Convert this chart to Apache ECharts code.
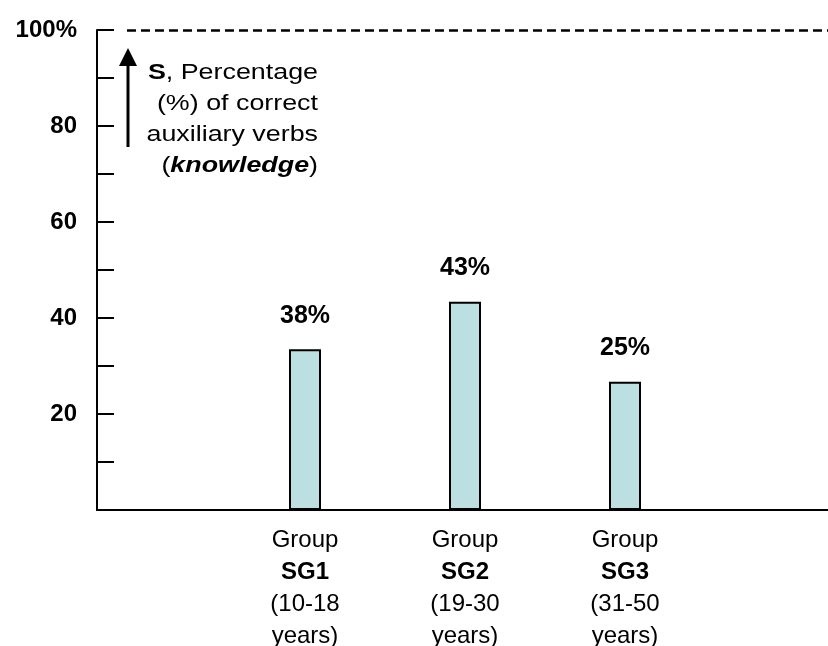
<!DOCTYPE html>
<html>
<head>
<meta charset="utf-8">
<script src="https://cdn.jsdelivr.net/npm/echarts@6/dist/echarts.min.js"></script>
<style>html,body{margin:0;padding:0;background:#fff;}#c{width:828px;height:646px;}</style>
</head>
<body>
<div id="c"></div>
<script>
const groups = ['SG1', 'SG2', 'SG3'];
const ages = ['10-18', '19-30', '31-50'];
const barValues = [33.5, 43.4, 26.7];
const valueLabels = ['38%', '43%', '25%'];
const yTicks = ['', '20', '40', '60', '80', '100%'];

const FONT = '"Liberation Sans", Arial, sans-serif';
const chart = echarts.init(document.getElementById('c'), null, {renderer: 'canvas'});

chart.setOption({
  animation: false,
  backgroundColor: '#fff',
  textStyle: {fontFamily: FONT},
  grid: [
    {left: 97, right: 0, top: 30, bottom: 136, outerBoundsMode: 'none', containLabel: false},
    {left: 225, right: 123, top: 30, bottom: 136, outerBoundsMode: 'none', containLabel: false}
  ],
  xAxis: [
    {type: 'value', gridIndex: 0, min: 0, max: 1, position: 'bottom',
     axisLine: {show: true, lineStyle: {color: '#000', width: 2}},
     axisTick: {show: false}, axisLabel: {show: false}, splitLine: {show: false}},
    {type: 'category', gridIndex: 1, data: groups,
     axisLine: {show: false}, axisTick: {show: false}, splitLine: {show: false},
     axisLabel: {
       margin: 14, color: '#000', fontSize: 24, lineHeight: 32, fontFamily: FONT,
       formatter: function (v, i) { return 'Group\n{b|' + v + '}\n(' + ages[i] + '\nyears)'; },
       rich: {b: {fontWeight: 'bold', fontSize: 24, lineHeight: 32, fontFamily: FONT, color: '#000'}}
     }}
  ],
  yAxis: [
    {type: 'value', gridIndex: 0, min: 0, max: 100, interval: 20,
     axisLine: {show: true, lineStyle: {color: '#000', width: 2}},
     axisTick: {show: true, inside: true, length: 17, lineStyle: {color: '#000', width: 2}},
     minorTick: {show: true, splitNumber: 2, length: 17, lineStyle: {color: '#000', width: 2}},
     splitLine: {show: false},
     axisLabel: {margin: 20, color: '#000', fontWeight: 'bold', fontSize: 24, fontFamily: FONT,
       padding: [0, 0, 14, 0],
       formatter: function (v) { return yTicks[Math.round(v / 20)]; }}},
    {type: 'value', gridIndex: 1, min: 0, max: 100, show: false}
  ],
  series: [{
    type: 'bar', xAxisIndex: 1, yAxisIndex: 1,
    data: barValues, barWidth: 32,
    itemStyle: {color: '#bce0e1', borderColor: '#000', borderWidth: 2},
    label: {show: true, position: 'top', distance: 21, color: '#000', fontWeight: 'bold',
      fontSize: 25, fontFamily: FONT,
      formatter: function (p) { return valueLabels[p.dataIndex]; }}
  }, {
    type: 'line', xAxisIndex: 0, yAxisIndex: 0, data: [], silent: true,
    markLine: {
      silent: true, symbol: 'none', label: {show: false},
      lineStyle: {color: '#000', width: 2.5, type: [9, 5]},
      data: [[{coord: [0.041, 100]}, {coord: [1, 100]}]]
    }
  }],
  graphic: [
    {type: 'line', shape: {x1: 128, y1: 147, x2: 128, y2: 62}, style: {stroke: '#000', lineWidth: 3}},
    {type: 'polygon', shape: {points: [[128, 48], [119, 66], [137, 66]]}, style: {fill: '#000'}},
    {type: 'text', x: 318, y: 57, scaleX: 1.22,
     style: {
       text: '{b|S}, Percentage\n(%) of correct\nauxiliary verbs\n({bi|knowledge})',
       align: 'right', verticalAlign: 'top',
       font: '22px ' + FONT, fill: '#000', lineHeight: 31,
       rich: {
         b: {fontWeight: 'bold', fontSize: 22, fontFamily: FONT, lineHeight: 31},
         bi: {fontWeight: 'bold', fontStyle: 'italic', fontSize: 22, fontFamily: FONT, lineHeight: 31}
       }
     }}
  ]
});
</script>
</body>
</html>
